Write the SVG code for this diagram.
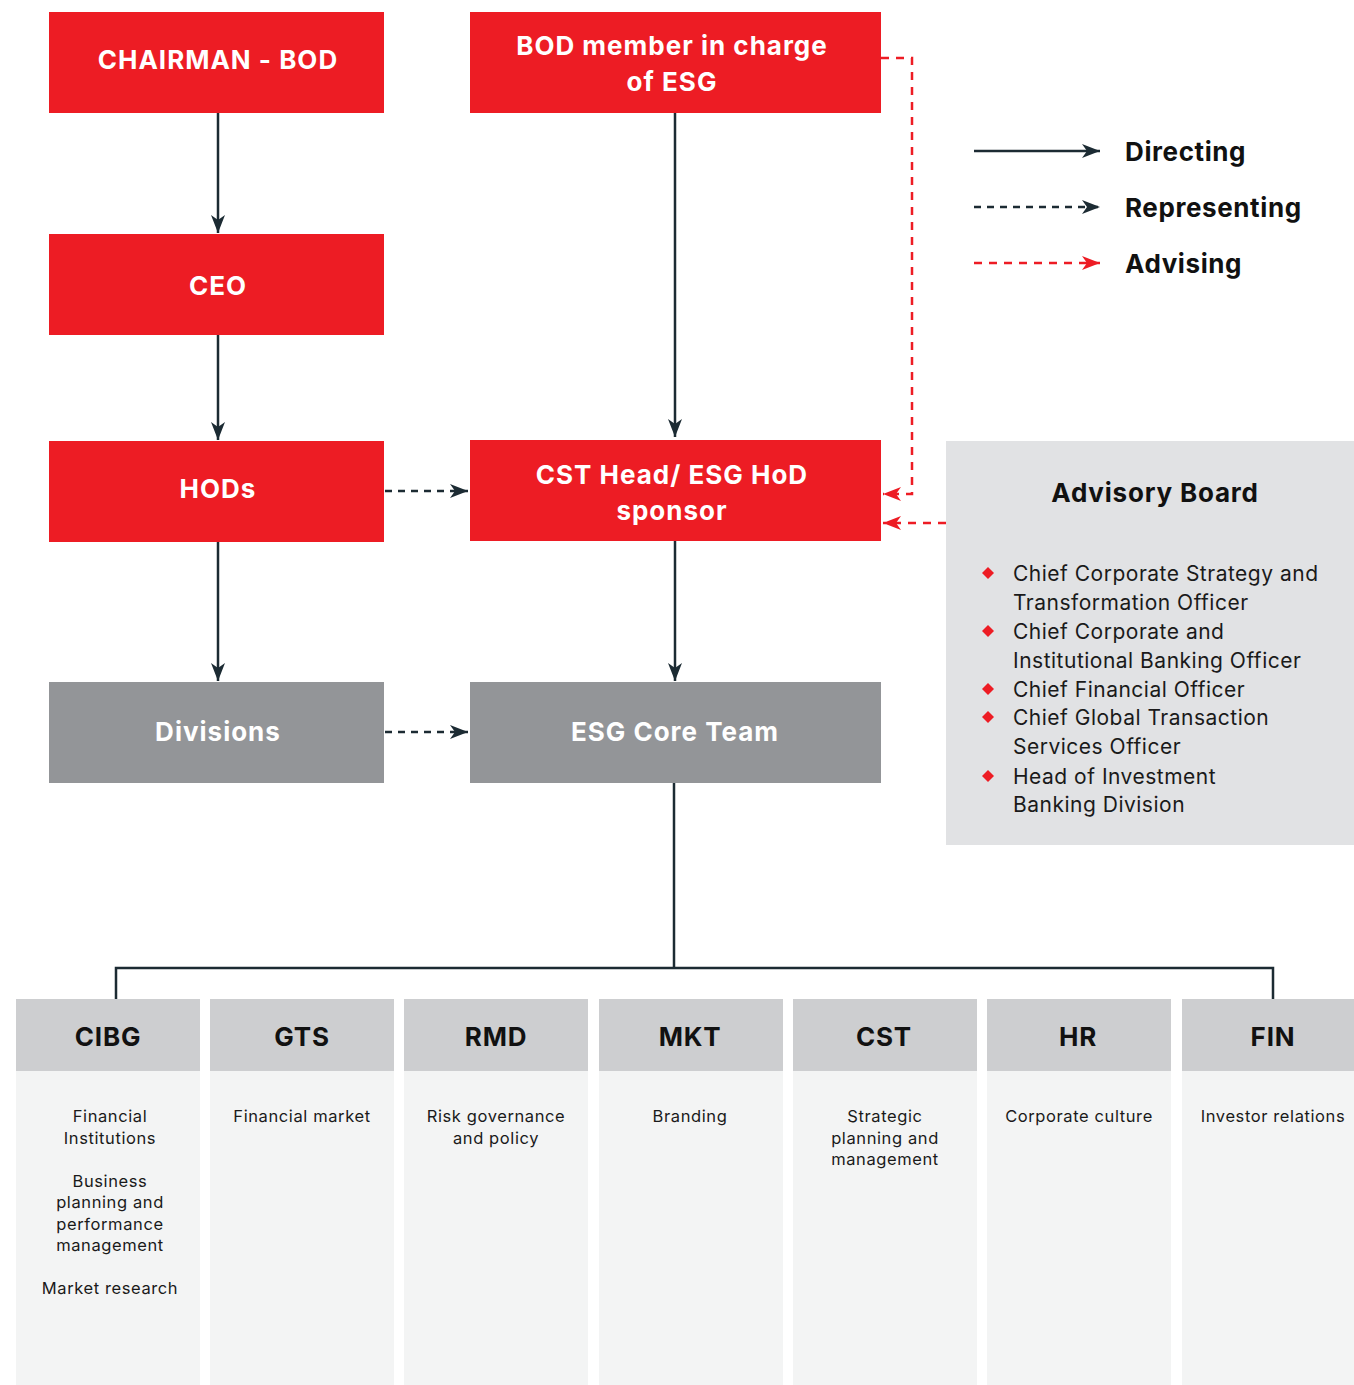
<svg xmlns="http://www.w3.org/2000/svg" width="1354" height="1385" viewBox="0 0 1354 1385">
<style>
.red{fill:#ED1C24}
.gray{fill:#939598}
.adv{fill:#E1E2E4}
.hd{fill:#CDCED0}
.bd{fill:#F3F4F4}
.nt{font-family:"Inter","Liberation Sans",sans-serif;font-weight:700;font-size:26px;letter-spacing:1px;fill:#fff;text-anchor:middle}
.ht{font-family:"Inter","Liberation Sans",sans-serif;font-weight:700;font-size:26px;letter-spacing:0.8px;fill:#111;text-anchor:middle}
.lg{font-family:"Inter","Liberation Sans",sans-serif;font-weight:700;font-size:26px;letter-spacing:0.6px;fill:#111}
.ab{font-family:"Inter","Liberation Sans",sans-serif;font-size:21px;letter-spacing:0.5px;fill:#1a1a1a}
.bt{font-family:"Inter","Liberation Sans",sans-serif;font-size:16.5px;letter-spacing:0.6px;fill:#1a1a1a;text-anchor:middle}
.dk{stroke:#1C2B33;stroke-width:2.5;fill:none}
.dd{stroke:#1C2B33;stroke-width:2.5;fill:none;stroke-dasharray:7 6}
.rd{stroke:#ED1C24;stroke-width:2.5;fill:none;stroke-dasharray:8 7}
</style>
<defs>
<marker id="ad" markerUnits="userSpaceOnUse" markerWidth="20" markerHeight="16" refX="18" refY="7" orient="auto">
<path d="M0,0 L18,7 L0,14 L5,7 z" fill="#1C2B33"/>
</marker>
<marker id="ar" markerUnits="userSpaceOnUse" markerWidth="20" markerHeight="16" refX="18" refY="7" orient="auto">
<path d="M0,0 L18,7 L0,14 L5,7 z" fill="#ED1C24"/>
</marker>
</defs>

<g id="connectors">
<line class="dk" x1="218" y1="113" x2="218" y2="233" marker-end="url(#ad)"/>
<line class="dk" x1="218" y1="335" x2="218" y2="440" marker-end="url(#ad)"/>
<line class="dk" x1="218" y1="542" x2="218" y2="681" marker-end="url(#ad)"/>
<line class="dk" x1="675" y1="113" x2="675" y2="437" marker-end="url(#ad)"/>
<line class="dk" x1="675" y1="541" x2="675" y2="681" marker-end="url(#ad)"/>
<line class="dd" x1="385" y1="491" x2="468" y2="491" marker-end="url(#ad)"/>
<line class="dd" x1="385" y1="732" x2="468" y2="732" marker-end="url(#ad)"/>
<polyline class="rd" points="881,58 912,58 912,494 883,494" marker-end="url(#ar)"/>
<line class="rd" x1="946" y1="523" x2="883" y2="523" marker-end="url(#ar)"/>
<polyline class="dk" points="674,783 674,968"/>
<polyline class="dk" points="116,999 116,968 1273,968 1273,999"/>
</g>

<g id="legend">
<line class="dk" x1="974" y1="151" x2="1100" y2="151" marker-end="url(#ad)"/>
<text class="lg" x="1125" y="161">Directing</text>
<line class="dd" x1="974" y1="207" x2="1100" y2="207" marker-end="url(#ad)"/>
<text class="lg" x="1125" y="217">Representing</text>
<line class="rd" x1="974" y1="263" x2="1100" y2="263" marker-end="url(#ar)"/>
<text class="lg" x="1125" y="273">Advising</text>
</g>

<g id="chairman"><rect class="red" x="49" y="12" width="335" height="101"/><text class="nt" x="218" y="69">CHAIRMAN - BOD</text></g>
<g id="bod-esg"><rect class="red" x="470" y="12" width="411" height="101"/><text class="nt" x="672" y="55">BOD member in charge</text><text class="nt" x="672" y="91">of ESG</text></g>
<g id="ceo"><rect class="red" x="49" y="234" width="335" height="101"/><text class="nt" x="218" y="295">CEO</text></g>
<g id="hods"><rect class="red" x="49" y="441" width="335" height="101"/><text class="nt" x="218" y="498">HODs</text></g>
<g id="cst-head"><rect class="red" x="470" y="440" width="411" height="101"/><text class="nt" x="672" y="484">CST Head/ ESG HoD</text><text class="nt" x="672" y="520">sponsor</text></g>
<g id="divisions"><rect class="gray" x="49" y="682" width="335" height="101"/><text class="nt" x="218" y="741">Divisions</text></g>
<g id="esg-core"><rect class="gray" x="470" y="682" width="411" height="101"/><text class="nt" x="675" y="741">ESG Core Team</text></g>

<g id="advisory-board">
<rect class="adv" x="946" y="441" width="408" height="404"/>
<text class="ht" x="1155" y="502">Advisory Board</text>
<g fill="#ED1C24">
<path d="M988,567 L994,573 L988,579 L982,573 z"/>
<path d="M988,625 L994,631 L988,637 L982,631 z"/>
<path d="M988,683 L994,689 L988,695 L982,689 z"/>
<path d="M988,711 L994,717 L988,723 L982,717 z"/>
<path d="M988,770 L994,776 L988,782 L982,776 z"/>
</g>
<text class="ab" x="1013" y="581">Chief Corporate Strategy and</text>
<text class="ab" x="1013" y="610">Transformation Officer</text>
<text class="ab" x="1013" y="639">Chief Corporate and</text>
<text class="ab" x="1013" y="668">Institutional Banking Officer</text>
<text class="ab" x="1013" y="697">Chief Financial Officer</text>
<text class="ab" x="1013" y="725">Chief Global Transaction</text>
<text class="ab" x="1013" y="754">Services Officer</text>
<text class="ab" x="1013" y="784">Head of Investment</text>
<text class="ab" x="1013" y="812">Banking Division</text>
</g>

<g id="cibg"><rect class="hd" x="16" y="999" width="184" height="72"/><rect class="bd" x="16" y="1071" width="184" height="314"/><text class="ht" x="108" y="1046">CIBG</text>
<text class="bt" x="110" y="1122">Financial</text><text class="bt" x="110" y="1144">Institutions</text>
<text class="bt" x="110" y="1187">Business</text><text class="bt" x="110" y="1208">planning and</text><text class="bt" x="110" y="1230">performance</text><text class="bt" x="110" y="1251">management</text>
<text class="bt" x="110" y="1294">Market research</text></g>
<g id="gts"><rect class="hd" x="210" y="999" width="184" height="72"/><rect class="bd" x="210" y="1071" width="184" height="314"/><text class="ht" x="302" y="1046">GTS</text>
<text class="bt" x="302" y="1122">Financial market</text></g>
<g id="rmd"><rect class="hd" x="404" y="999" width="184" height="72"/><rect class="bd" x="404" y="1071" width="184" height="314"/><text class="ht" x="496" y="1046">RMD</text>
<text class="bt" x="496" y="1122">Risk governance</text><text class="bt" x="496" y="1144">and policy</text></g>
<g id="mkt"><rect class="hd" x="599" y="999" width="184" height="72"/><rect class="bd" x="599" y="1071" width="184" height="314"/><text class="ht" x="690" y="1046">MKT</text>
<text class="bt" x="690" y="1122">Branding</text></g>
<g id="cst"><rect class="hd" x="793" y="999" width="184" height="72"/><rect class="bd" x="793" y="1071" width="184" height="314"/><text class="ht" x="884" y="1046">CST</text>
<text class="bt" x="885" y="1122">Strategic</text><text class="bt" x="885" y="1144">planning and</text><text class="bt" x="885" y="1165">management</text></g>
<g id="hr"><rect class="hd" x="987" y="999" width="184" height="72"/><rect class="bd" x="987" y="1071" width="184" height="314"/><text class="ht" x="1078" y="1046">HR</text>
<text class="bt" x="1079" y="1122">Corporate culture</text></g>
<g id="fin"><rect class="hd" x="1182" y="999" width="172" height="72"/><rect class="bd" x="1182" y="1071" width="172" height="314"/><text class="ht" x="1273" y="1046">FIN</text>
<text class="bt" x="1273" y="1122">Investor relations</text></g>
</svg>
